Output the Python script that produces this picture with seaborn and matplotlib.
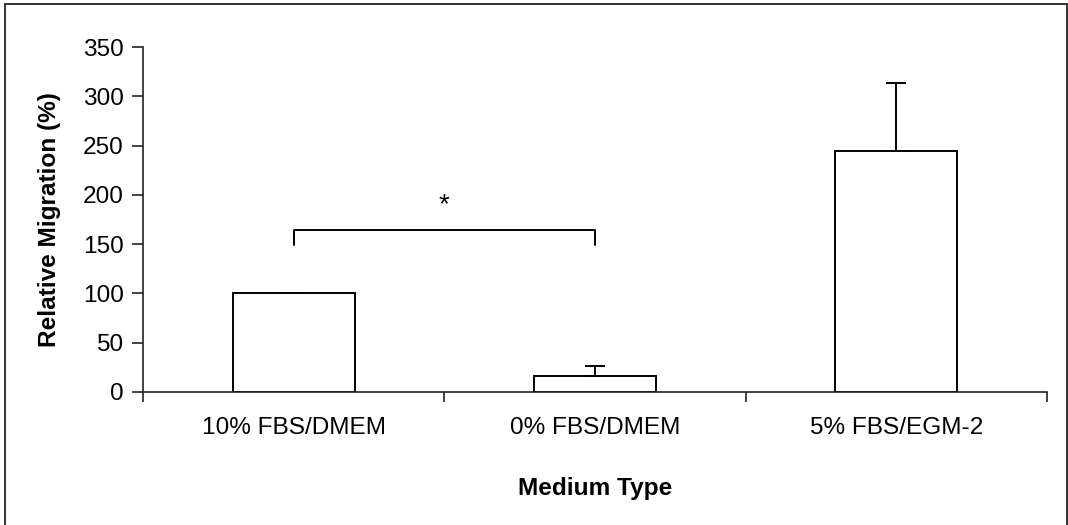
import matplotlib
matplotlib.use("Agg")
import matplotlib.pyplot as plt
from matplotlib.patches import Rectangle
from matplotlib.ticker import FixedLocator
import seaborn as sns
import pandas as pd

# Data
media = ["10% FBS/DMEM", "0% FBS/DMEM", "5% FBS/EGM-2"]
migration = [100, 16.5, 245]
migration_err = [0.4, 10, 68]
y_ticks = [0, 50, 100, 150, 200, 250, 300, 350]
sig_pair = (0, 1)
sig_level = 164
sig_leg = 149
sig_mark = "*"

sns.set_style("ticks")
plt.rcParams["font.family"] = ["Liberation Sans", "DejaVu Sans"]
plt.rcParams.update({"text.color": "black", "axes.labelcolor": "black",
                     "xtick.labelcolor": "black", "ytick.labelcolor": "black"})

df = pd.DataFrame({"Medium Type": media, "Relative Migration (%)": migration})

fig = plt.figure(figsize=(10.68, 5.25), dpi=100)
ax = fig.add_axes([143 / 1068, 1 - 392 / 525, 904 / 1068, 345 / 525])

sns.barplot(data=df, x="Medium Type", y="Relative Migration (%)", ax=ax,
            color="white", edgecolor="black", linewidth=1.4, width=0.405,
            errorbar=None, saturation=1)

# upper-only error bars
ax.errorbar(range(len(media)), migration, yerr=[[0] * len(media), migration_err],
            fmt="none", ecolor="black", elinewidth=1.4, capsize=7.5, capthick=1.4,
            zorder=3)

ax.set_xlim(-0.5, len(media) - 0.5)
ax.set_ylim(0, 350)
ax.set_yticks(y_ticks)

# category boundary ticks on the x axis
ax.xaxis.set_minor_locator(FixedLocator([i - 0.5 for i in range(len(media) + 1)]))
ax.tick_params(axis="x", which="major", length=0, pad=18, labelsize=17.6,
               labelcolor="black")
ax.tick_params(axis="x", which="minor", length=7, width=1.2, direction="out", color="#222222")
ax.tick_params(axis="y", length=8, width=1.2, direction="out", pad=6, labelsize=17.6,
               color="#222222", labelcolor="black")

for s in ["top", "right"]:
    ax.spines[s].set_visible(False)
for s in ["left", "bottom"]:
    ax.spines[s].set_color("#222222")
    ax.spines[s].set_linewidth(1.2)

ax.set_xlabel("Medium Type", fontsize=17.6, fontweight="bold", labelpad=27, color="black")
ax.set_ylabel("Relative Migration (%)", fontsize=17.6, fontweight="bold", labelpad=15.5,
              color="black")

# significance bracket
x0, x1 = sig_pair
ax.plot([x0, x0, x1, x1], [sig_leg, sig_level, sig_level, sig_leg],
        color="black", lw=1.4, clip_on=False)
ax.text((x0 + x1) / 2, sig_level + 12, sig_mark, ha="center", va="bottom",
        fontsize=20, color="black")

# frame around the figure
fig.add_artist(Rectangle((5.5 / 1068, -0.05), 1061 / 1068, 0.05 + 1 - 4 / 525,
                         transform=fig.transFigure, fill=False,
                         edgecolor="#333333", linewidth=1.4))

fig.savefig("out.png", dpi=100)
